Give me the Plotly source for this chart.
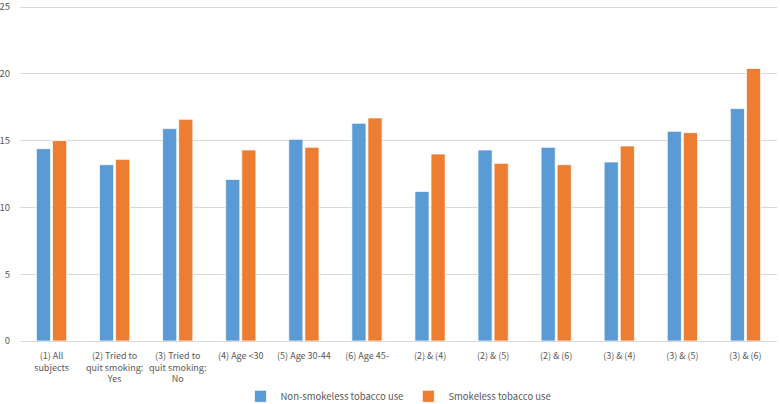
import plotly.graph_objects as go

categories = [
    "(1) All<br>subjects",
    "(2) Tried to<br>quit smoking:<br>Yes",
    "(3) Tried to<br>quit smoking:<br>No",
    "(4) Age &lt;30",
    "(5) Age 30-44",
    "(6) Age 45-",
    "(2) &amp; (4)",
    "(2) &amp; (5)",
    "(2) &amp; (6)",
    "(3) &amp; (4)",
    "(3) &amp; (5)",
    "(3) &amp; (6)",
]
non_smokeless = [14.4, 13.2, 15.9, 12.1, 15.1, 16.3, 11.2, 14.3, 14.5, 13.4, 15.7, 17.4]
smokeless = [15.0, 13.6, 16.6, 14.3, 14.5, 16.7, 14.0, 13.3, 13.2, 14.6, 15.6, 20.4]
y_ticks = [0, 5, 10, 15, 20, 25]

font_family = "Noto Sans CJK KR, Noto Sans, sans-serif"
text_color = "#595959"

fig = go.Figure()
fig.add_trace(go.Bar(
    name="Non-smokeless tobacco use", x=categories, y=non_smokeless,
    marker=dict(color="#5B9BD5", line=dict(color="white", width=0.75)),
))
fig.add_trace(go.Bar(
    name="Smokeless tobacco use", x=categories, y=smokeless,
    marker=dict(color="#ED7D31", line=dict(color="white", width=0.75)),
))

fig.update_layout(
    width=780, height=404,
    margin=dict(l=20, r=3, t=6, b=63),
    paper_bgcolor="white", plot_bgcolor="white",
    barmode="group", bargap=0.49, bargroupgap=0.12,
    font=dict(family=font_family, size=9, color=text_color),
    showlegend=True,
    legend=dict(orientation="h", x=0.5, xanchor="center",
                yref="container", y=0.019, yanchor="middle",
                font=dict(size=9.5, color=text_color), itemwidth=30,
                traceorder="normal"),
    xaxis=dict(showgrid=False, showline=True, linecolor="#D9D9D9", linewidth=1,
               ticks="", tickfont=dict(size=9, color=text_color), tickangle=0,
               ticklabelstandoff=6, automargin=False),
    yaxis=dict(range=[0, 25.08], tickvals=y_ticks, showgrid=True, gridcolor="#D9D9D9",
               gridwidth=1, zeroline=False, showline=False, ticks="",
               tickfont=dict(size=9.5, color=text_color), ticklabelstandoff=9,
               ticklabeloverflow="allow", automargin=False),
)

fig.write_html(
    "out.html",
    config={"displayModeBar": False},
    post_script="document.body.style.margin='0';document.body.style.overflow='hidden';",
)
